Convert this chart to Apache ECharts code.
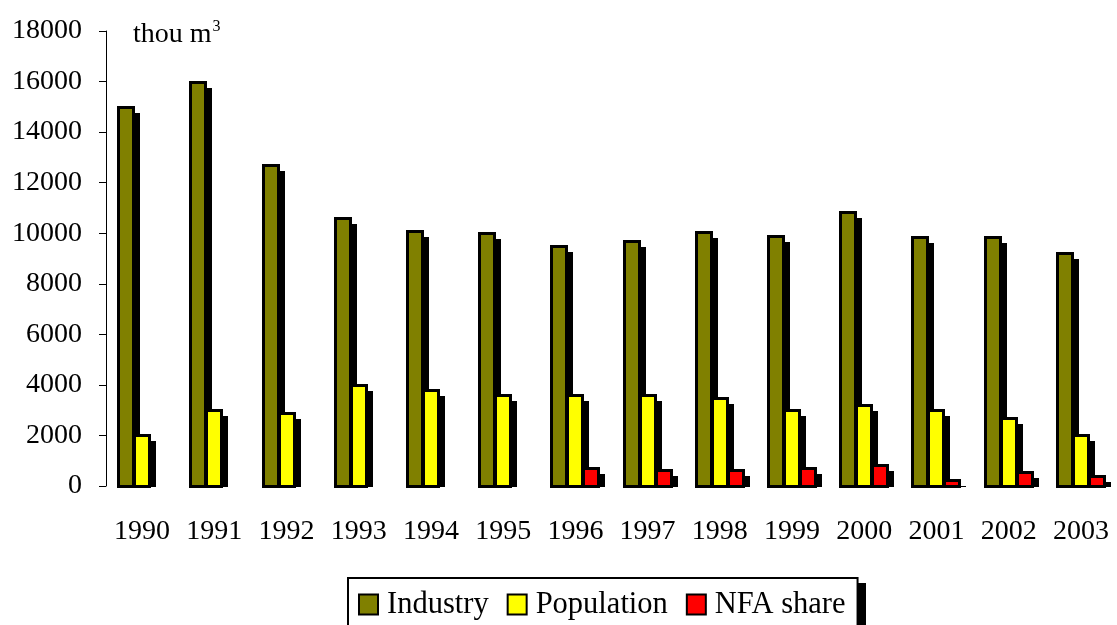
<!DOCTYPE html>
<html>
<head>
<meta charset="utf-8">
<script src="https://cdn.jsdelivr.net/npm/echarts@6/dist/echarts.min.js"></script>
<style>
html,body{margin:0;padding:0;background:#fff;}
#chart{width:1117px;height:625px;}
</style>
</head>
<body>
<div id="chart"></div>
<script>
var categories = ['1990','1991','1992','1993','1994','1995','1996','1997','1998','1999','2000','2001','2002','2003'];
var industry   = [15000,16000,12700,10600,10100,10000,9500,9700,10050,9900,10850,9850,9850,9200];
var population = [2000,3000,2900,4000,3800,3600,3600,3600,3500,3000,3200,3000,2700,2000];
var nfaShare   = [0,0,0,0,0,0,700,650,650,700,850,250,550,400];
var yTicks = { min: 0, max: 18000, interval: 2000 };
var unitLabel = 'thou m';

var FONT = '"Liberation Serif", "Times New Roman", serif';
var chart = echarts.init(document.getElementById('chart'), null, {renderer:'canvas'});

var BAR_W = 16;
function makeRender(slot) {
  return function (params, api) {
    var idx = api.value(0);
    var val = api.value(1);
    if (!val) return null;
    var base = api.coord([idx, 0]);
    var top = api.coord([idx, val]);
    var cx = Math.round(base[0] + (slot - 1) * BAR_W);
    var yTop = Math.round(top[1]);
    var yBot = Math.round(base[1]);
    var color = api.visual('color');
    return {
      type: 'group',
      children: [
        {
          type: 'rect',
          shape: { x: cx - 4, y: yTop + 6, width: 18, height: Math.max(0, yBot - yTop - 5) },
          style: { fill: '#000' }
        },
        {
          type: 'rect',
          shape: { x: cx - 7.5, y: yTop + 0.5, width: 15, height: yBot - yTop },
          style: { fill: color, stroke: '#000', lineWidth: 3 }
        }
      ]
    };
  };
}

function barSeries(name, arr, color, slot) {
  return {
    name: name,
    type: 'custom',
    data: arr.map(function (v, i) { return [i, v]; }),
    encode: { x: 0, y: 1 },
    itemStyle: { color: color },
    renderItem: makeRender(slot),
    silent: true,
    animation: false
  };
}

chart.setOption({
  animation: false,
  backgroundColor: '#fff',
  title: {
    text: '{a|' + unitLabel + '}{s|3}',
    left: 128,
    top: 14,
    textStyle: {
      fontWeight: 'normal',
      rich: {
        a: { fontFamily: FONT, fontSize: 28, fontWeight: 'normal', color: '#000', verticalAlign: 'bottom', lineHeight: 30 },
        s: { fontFamily: FONT, fontSize: 16, fontWeight: 'normal', color: '#000', verticalAlign: 'top', padding: [0,0,14,1], lineHeight: 16 }
      }
    }
  },
  grid: { left: 106, top: 31, width: 1018, height: 455, containLabel: false },
  xAxis: {
    type: 'category',
    data: categories,
    axisLine: { show: false },
    axisTick: { show: false },
    axisLabel: { fontFamily: FONT, fontSize: 28, color: '#000', margin: 32, interval: 0 }
  },
  yAxis: {
    type: 'value',
    min: yTicks.min, max: yTicks.max, interval: yTicks.interval,
    axisLine: { show: true, lineStyle: { color: '#000', width: 1 } },
    axisTick: { show: true, length: 7, lineStyle: { color: '#000' } },
    splitLine: { show: false },
    axisLabel: { fontFamily: FONT, fontSize: 28, color: '#000', margin: 24, formatter: function (v) { return String(v); } }
  },
  legend: {
    left: 348,
    top: 578,
    z: 10,
    orient: 'horizontal',
    icon: 'rect',
    itemWidth: 19,
    itemHeight: 20,
    itemGap: 18,
    padding: [11, 12, 14, 10],
    borderColor: '#000',
    borderWidth: 2,
    borderRadius: 0,
    backgroundColor: '#fff',
    textStyle: { fontFamily: FONT, fontSize: 30.5, color: '#000', padding: [0,0,0,4] },
    itemStyle: { borderColor: '#000', borderWidth: 2 },
    data: ['Industry','Population','NFA share']
  },
  graphic: [{
    type: 'rect',
    z: 1,
    shape: { x: 353, y: 583, width: 513, height: 60 },
    style: { fill: '#000' },
    silent: true
  }],
  series: [
    barSeries('Industry', industry, '#808000', 0),
    barSeries('Population', population, '#FFFF00', 1),
    barSeries('NFA share', nfaShare, '#FF0000', 2)
  ]
});
</script>
</body>
</html>
